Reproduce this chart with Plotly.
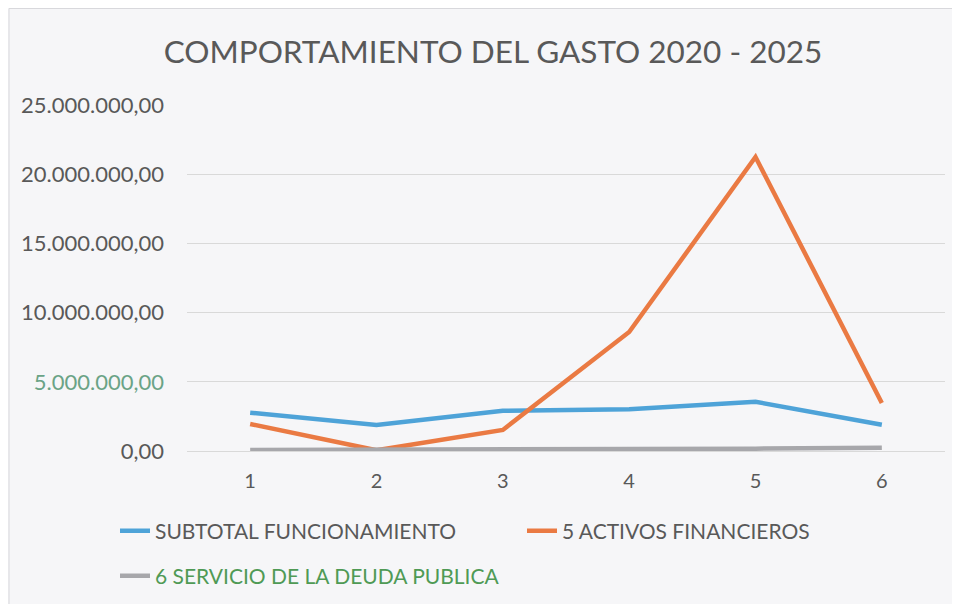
import plotly.graph_objects as go

categories = ["1", "2", "3", "4", "5", "6"]
subtotal_funcionamiento = [2770000, 1880000, 2910000, 3010000, 3560000, 1900000]
activos_financieros = [1950000, 50000, 1520000, 8600000, 21250000, 3470000]
servicio_deuda = [80000, 90000, 110000, 140000, 170000, 230000]
y_ticks = [0, 5000000, 10000000, 15000000, 20000000, 25000000]
y_tick_labels = ["0,00", "<span style='color:#6aa386'>5.000.000,00</span>", "10.000.000,00",
                 "15.000.000,00", "20.000.000,00", "25.000.000,00"]

# page body adds an 8px margin, so the figure is 952x596
W, H = 952, 596
ML, MR, MT, MB = 179, 15, 97, 153
FONT = "Lato, 'Open Sans', sans-serif"
TXT = "#595959"

pw = W - ML - MR
ph = H - MT - MB

fig = go.Figure()
fig.add_trace(go.Scatter(x=categories, y=subtotal_funcionamiento, mode="lines",
                         name="SUBTOTAL FUNCIONAMIENTO", legend="legend",
                         line=dict(color="#4ea3d8", width=4.5)))
fig.add_trace(go.Scatter(x=categories, y=activos_financieros, mode="lines",
                         name="5 ACTIVOS FINANCIEROS", legend="legend",
                         line=dict(color="#ea7a43", width=4.5)))
fig.add_trace(go.Scatter(x=categories, y=servicio_deuda, mode="lines",
                         name="<span style='color:#4f9a55'>6 SERVICIO DE LA DEUDA PUBLICA</span>",
                         legend="legend2",
                         line=dict(color="#a7a7ab", width=4.5)))

leg_common = dict(orientation="h", xanchor="left", yanchor="middle",
                  font=dict(family=FONT, size=21, color=TXT),
                  bgcolor="rgba(0,0,0,0)", borderwidth=0)

fig.update_layout(
    width=W, height=H,
    margin=dict(l=ML, r=MR, t=MT, b=MB, autoexpand=False),
    paper_bgcolor="#f6f6f8",
    plot_bgcolor="#f6f6f8",
    font=dict(family=FONT, color=TXT, size=17),
    title=dict(text="COMPORTAMIENTO DEL GASTO 2020 - 2025",
               x=(485 - ML) / pw, xref="paper", xanchor="center",
               y=1 - 44 / H, yref="container", yanchor="middle",
               font=dict(family=FONT, size=31.5, color=TXT)),
    showlegend=True,
    legend=dict(x=(107 - ML) / pw, y=(H - MB - 523) / ph,
                entrywidth=362, entrywidthmode="pixels", **leg_common),
    legend2=dict(x=(107 - ML) / pw, y=(H - MB - 568) / ph, **leg_common),
    xaxis=dict(type="category", range=[-0.5, 5.5], showgrid=False,
               showline=True, linecolor="#d9d9d9", linewidth=1,
               ticks="", tickfont=dict(family=FONT, size=20, color=TXT),
               ticklabelstandoff=12, zeroline=False),
    yaxis=dict(range=[0, 25010000], tickvals=y_ticks, ticktext=y_tick_labels,
               showgrid=True, gridcolor="#d9d9d9", gridwidth=1,
               zeroline=False, showline=False, ticks="",
               tickfont=dict(family=FONT, size=22, color=TXT),
               ticklabelstandoff=22),
)

# faint chart frame from the scan
fig.add_shape(type="rect", xref="paper", yref="paper",
              x0=(1 - ML) / pw, x1=(W + 5 - ML) / pw,
              y0=-(H + 5 - MT - ph) / ph, y1=1 + (MT - 0.5) / ph,
              line=dict(color="#d8d8dc", width=1), fillcolor="rgba(0,0,0,0)", layer="below")

fig.write_html("out.html")
